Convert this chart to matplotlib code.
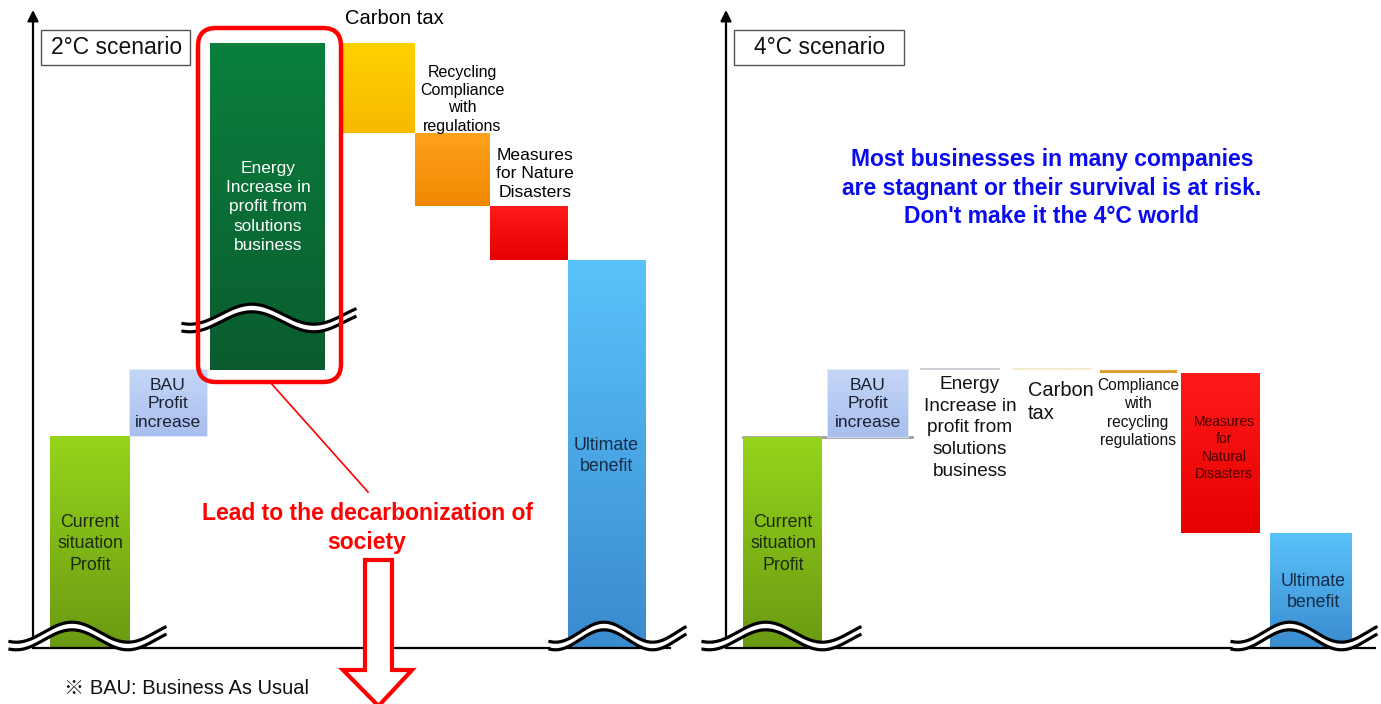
import numpy as np
import matplotlib
matplotlib.use('Agg')
import matplotlib.pyplot as plt
from matplotlib.patches import Rectangle, FancyBboxPatch, Polygon
from matplotlib.colors import to_rgb

plt.rcParams['font.family'] = ['Liberation Sans', 'Noto Sans CJK JP', 'DejaVu Sans']

# ---------------- data ----------------
steps_2c = ["Current situation Profit", "BAU Profit increase",
            "Energy Increase in profit from solutions business", "Carbon tax",
            "Recycling Compliance with regulations", "Measures for Nature Disasters",
            "Ultimate benefit"]
values_2c = [212, 66, 327, -90, -73, -54, None]   # None -> running total

steps_4c = ["Current situation Profit", "BAU Profit increase",
            "Energy Increase in profit from solutions business", "Carbon tax",
            "Compliance with recycling regulations", "Measures for Natural Disasters",
            "Ultimate benefit"]
values_4c = [211, 67, 2, -2, -3, -160, None]

# ---------------- layout / style ----------------
W, H = 1381, 704
fig = plt.figure(figsize=(W / 100, H / 100), dpi=100)

def add_px_axes(x0, x1, ybot, ytop):
    ax = fig.add_axes([x0 / W, 1 - ybot / H, (x1 - x0) / W, (ybot - ytop) / H])
    ax.set_xlim(0, x1 - x0)
    ax.set_ylim(0, ybot - ytop)
    for s in ['top', 'right', 'left']:
        ax.spines[s].set_visible(False)
    ax.spines['bottom'].set_linewidth(1.6)
    ax.set_xticks([]); ax.set_yticks([])
    ax.patch.set_alpha(0)
    ax.annotate('', xy=(0, 1.0), xytext=(0, 0), xycoords='axes fraction',
                arrowprops=dict(arrowstyle='-|>', color='black', lw=1.6,
                                mutation_scale=16, shrinkA=0, shrinkB=0))
    return ax

axL = add_px_axes(33, 670, 648, 10)
axR = add_px_axes(726, 1375, 648, 10)

centers_2c = [57, 135, 234, 345, 419, 496, 574]
widths_2c = [80, 77, 115, 74, 75, 78, 78]
centers_4c = [56, 142, 234, 326, 412, 494, 585]
widths_4c = [79, 80, 80, 80, 77, 79, 82]

grad_2c = [('#96d41c', '#6a9a12'), ('#c4d6f7', '#a8bfee'), ('#0b803d', '#0a5c2f'),
           ('#ffd200', '#f7ba00'), ('#ffa21c', '#f08800'), ('#ff1a1a', '#e60000'),
           ('#5ac2fb', '#3a8bcf')]
grad_4c = [('#96d41c', '#6a9a12'), ('#c4d6f7', '#a8bfee'), ('#ccd2d8', '#ccd2d8'),
           ('#f3eccf', '#f3eccf'), ('#e2a53a', '#d99a2a'), ('#ff1a1a', '#e60000'),
           ('#5ac2fb', '#3a8bcf')]


def waterfall(values):
    bottoms, heights, cum = [], [], 0
    for v in values:
        if v is None:
            bottoms.append(0); heights.append(cum)
        elif not bottoms:
            bottoms.append(0); heights.append(v); cum = v
        else:
            if v >= 0:
                bottoms.append(cum)
            else:
                bottoms.append(cum + v)
            heights.append(abs(v)); cum += v
    return bottoms, heights


def gradient_fill(ax, rect, c_top, c_bot):
    x0, y0 = rect.get_x(), rect.get_y()
    w, h = rect.get_width(), rect.get_height()
    t = np.linspace(0, 1, 64)[:, None]
    img = (np.array(to_rgb(c_top)) * (1 - t) + np.array(to_rgb(c_bot)) * t)[:, None, :]
    im = ax.imshow(img, extent=[x0, x0 + w, y0, y0 + h], origin='upper',
                   aspect='auto', zorder=2.1, interpolation='bilinear')
    im.set_clip_path(rect)


def draw_bars(ax, values, centers, widths, grads):
    bottoms, heights = waterfall(values)
    bars = ax.bar(centers, heights, width=widths, bottom=bottoms,
                  color=[g[0] for g in grads], zorder=2, linewidth=0)
    for rect, g in zip(bars, grads):
        gradient_fill(ax, rect, g[0], g[1])
    return bars


def draw_break(ax, x0, x1, yc, amp=10, gap=3.8):
    t = np.linspace(0, 1, 200)
    x = x0 + (x1 - x0) * t
    y = yc + amp * np.cos(2 * np.pi * (t - 0.4) / 0.72)
    ax.fill_between(x, y - gap, y + gap, color='white', zorder=5, lw=0, clip_on=False)
    ax.plot(x, y + gap, color='black', lw=2.3, zorder=6, clip_on=False)
    ax.plot(x, y - gap, color='black', lw=2.3, zorder=6, clip_on=False)


barsL = draw_bars(axL, values_2c, centers_2c, widths_2c, grad_2c)
barsR = draw_bars(axR, values_4c, centers_4c, widths_4c, grad_4c)
barsL[1].set_edgecolor('#dbe5fa'); barsL[1].set_linewidth(1.2)
barsR[1].set_edgecolor('#dbe5fa'); barsR[1].set_linewidth(1.2)
for ax, w in ((axL, 637), (axR, 649)):
    ax.set_xlim(0, w); ax.set_ylim(0, 638)

# grey connector on right panel
r0, r1 = barsR[0], barsR[1]
axR.plot([r0.get_x(), r1.get_x() + r1.get_width() + 4], [r0.get_height()] * 2,
         color='#a0a0a0', lw=2, zorder=1.9)

# axis breaks
draw_break(axL, -23, 132, 12)
draw_break(axL, 150, 322, 330)
draw_break(axL, 517, 652, 12)
draw_break(axR, -23, 134, 12)
draw_break(axR, 506, 650, 12)

# scenario boxes
for ax, w, label in ((axL, 149, '2°C scenario'), (axR, 170, '4°C scenario')):
    ax.add_patch(Rectangle((8, 583), w, 35, fill=False, edgecolor='#555555',
                           lw=1.0, zorder=7, clip_on=False))
    ax.text(8 + w / 2 + 1, 600, label, ha='center', va='center', fontsize=16.5,
            zorder=8, color='#111111')

# ---------- left panel labels ----------
txt = dict(ha='center', va='center', zorder=8, clip_on=False)
axL.text(361, 630, 'Carbon tax', fontsize=14.5, **txt)
axL.text(429, 549, 'Recycling\nCompliance\nwith\nregulations', fontsize=11.5,
         linespacing=1.25, **txt)
axL.text(502, 474, 'Measures\nfor Nature\nDisasters', fontsize=12.6, linespacing=1.32, **txt)
axL.text(235, 441, 'Energy\nIncrease in\nprofit from\nsolutions\nbusiness',
         fontsize=12.4, color='white', linespacing=1.36, **txt)
axL.text(135, 244, 'BAU\nProfit\nincrease', fontsize=12.6, linespacing=1.32,
         color='#1a2030', **txt)
axL.text(57, 104, 'Current\nsituation\nProfit', fontsize=12.8, linespacing=1.36,
         color='#1a2a10', **txt)
axL.text(573, 192, 'Ultimate\nbenefit', fontsize=12.8, linespacing=1.34,
         color='#152a45', **txt)
axL.text(334, 120, 'Lead to the decarbonization of\nsociety', fontsize=16.5,
         fontweight='bold', color='#ff0000', linespacing=1.3, **txt)
axL.text(31, -41, '※ BAU: Business As Usual', fontsize=14.5, ha='left',
         va='center', clip_on=False, color='#111111')

# red highlight box, pointer line and hollow arrow
axL.add_patch(FancyBboxPatch((165, 266), 143, 354,
                             boxstyle='round,pad=0,rounding_size=18',
                             fill=False, edgecolor='#ff0000', lw=3.2,
                             zorder=9, clip_on=False))
axL.plot([237, 335], [266, 156], color='#ff0000', lw=1.2, zorder=9)
arrow_xy = [(332, 88), (359, 88), (359, -22), (379, -22), (345.5, -58),
            (310, -22), (332, -22)]
axL.add_patch(Polygon(arrow_xy, closed=True, facecolor='white',
                      edgecolor='#ff0000', lw=3, zorder=9, clip_on=False,
                      joinstyle='miter'))

# ---------- right panel labels ----------
axR.text(326, 460, "Most businesses in many companies\nare stagnant or their survival is at risk.\nDon't make it the 4°C world",
         fontsize=16.5, fontweight='bold', color='#0a0aee', linespacing=1.33, **txt)
axR.text(142, 244, 'BAU\nProfit\nincrease', fontsize=12.6, linespacing=1.32,
         color='#1a2030', **txt)
axR.text(244, 220, 'Energy\nIncrease in\nprofit from\nsolutions\nbusiness',
         fontsize=13.7, linespacing=1.36, color='#111111', **txt)
axR.text(302, 246, 'Carbon\ntax', fontsize=14.4, ha='left', va='center',
         linespacing=1.3, color='#111111', zorder=8)
axR.text(412, 235, 'Compliance\nwith\nrecycling\nregulations', fontsize=11.2,
         linespacing=1.3, color='#111111', **txt)
axR.text(498, 200, 'Measures\nfor\nNatural\nDisasters', fontsize=10,
         linespacing=1.3, color='#4a0000', **txt)
axR.text(57, 104, 'Current\nsituation\nProfit', fontsize=12.8, linespacing=1.36,
         color='#1a2a10', **txt)
axR.text(587, 56, 'Ultimate\nbenefit', fontsize=12.8, linespacing=1.34,
         color='#152a45', **txt)

fig.savefig('out.png', dpi=100)
